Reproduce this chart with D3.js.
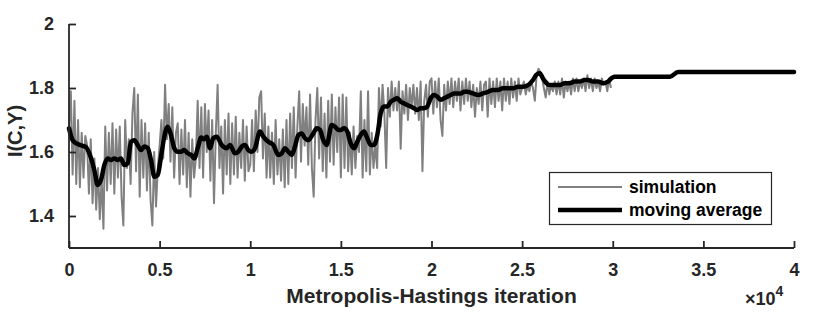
<!DOCTYPE html>
<html>
<head>
<meta charset="utf-8">
<script src="https://cdn.jsdelivr.net/npm/d3@7"></script>
<style>
  html, body { margin: 0; padding: 0; background: #fff; }
  svg { display: block; font-family: "Liberation Sans", Arial, Helvetica, sans-serif; font-weight: bold; }
</style>
</head>
<body>
<svg id="chart" width="830" height="312"></svg>
<script>
// ---- data ----
const xTicks = [0, 5000, 10000, 15000, 20000, 25000, 30000, 35000, 40000];
const xTickLabels = ["0", "0.5", "1", "1.5", "2", "2.5", "3", "3.5", "4"];
const yTicks = [1.4, 1.6, 1.8, 2];
const yTickLabels = ["1.4", "1.6", "1.8", "2"];
const seriesNames = ["simulation", "moving average"];

// simulation values, one every 100 iterations (0 .. 29900)
const simStep = 100;
const simValues = [
  1.67, 1.79, 1.53, 1.76, 1.50, 1.70, 1.49, 1.66, 1.52, 1.65,
  1.62, 1.47, 1.64, 1.44, 1.58, 1.42, 1.55, 1.39, 1.52, 1.36,
  1.68, 1.48, 1.66, 1.50, 1.69, 1.47, 1.67, 1.52, 1.68, 1.46,
  1.37, 1.70, 1.55, 1.64, 1.50, 1.72, 1.80, 1.54, 1.78, 1.46,
  1.70, 1.52, 1.69, 1.48, 1.66, 1.45, 1.37, 1.60, 1.43, 1.55,
  1.62, 1.70, 1.58, 1.81, 1.64, 1.75, 1.57, 1.74, 1.52, 1.66,
  1.69, 1.50, 1.67, 1.53, 1.70, 1.49, 1.66, 1.46, 1.64, 1.52,
  1.58, 1.76, 1.55, 1.74, 1.52, 1.75, 1.60, 1.73, 1.51, 1.70,
  1.44, 1.66, 1.81, 1.55, 1.68, 1.47, 1.70, 1.53, 1.72, 1.50,
  1.69, 1.53, 1.71, 1.52, 1.66, 1.55, 1.70, 1.51, 1.68, 1.54,
  1.56, 1.70, 1.54, 1.73, 1.60, 1.77, 1.79, 1.58, 1.72, 1.52,
  1.68, 1.52, 1.66, 1.50, 1.70, 1.53, 1.64, 1.51, 1.67, 1.49,
  1.70, 1.50, 1.72, 1.55, 1.74, 1.52, 1.68, 1.79, 1.57, 1.75,
  1.62, 1.74, 1.56, 1.78, 1.55, 1.46, 1.70, 1.80, 1.58, 1.77,
  1.54, 1.72, 1.52, 1.76, 1.57, 1.78, 1.56, 1.74, 1.60, 1.77,
  1.52, 1.78, 1.55, 1.77, 1.54, 1.66, 1.53, 1.68, 1.55, 1.65,
  1.60, 1.79, 1.52, 1.70, 1.54, 1.79, 1.53, 1.66, 1.55, 1.62,
  1.55, 1.80, 1.68, 1.81, 1.72, 1.55, 1.80, 1.71, 1.82, 1.73,
  1.80, 1.73, 1.82, 1.61, 1.79, 1.72, 1.81, 1.70, 1.80, 1.74,
  1.81, 1.72, 1.80, 1.70, 1.82, 1.54, 1.76, 1.81, 1.71, 1.82,
  1.83, 1.72, 1.82, 1.74, 1.83, 1.70, 1.65, 1.81, 1.73, 1.82,
  1.75, 1.83, 1.74, 1.82, 1.76, 1.83, 1.73, 1.82, 1.75, 1.83,
  1.76, 1.82, 1.74, 1.81, 1.71, 1.80, 1.75, 1.82, 1.73, 1.81,
  1.82, 1.71, 1.83, 1.75, 1.82, 1.74, 1.83, 1.76, 1.82, 1.73,
  1.83, 1.76, 1.82, 1.75, 1.83, 1.77, 1.82, 1.76, 1.83, 1.78,
  1.80, 1.82, 1.78, 1.81, 1.79, 1.82, 1.80, 1.76, 1.84, 1.86,
  1.85, 1.83, 1.80, 1.77, 1.82, 1.78, 1.81, 1.79, 1.82, 1.78,
  1.82, 1.78, 1.83, 1.77, 1.82, 1.79, 1.82, 1.78, 1.83, 1.79,
  1.83, 1.79, 1.82, 1.80, 1.83, 1.79, 1.84, 1.80, 1.83, 1.79,
  1.83, 1.80, 1.82, 1.79, 1.83, 1.81, 1.82, 1.79, 1.83, 1.80
];

// moving average, read at irregular iterations
const maIter = [
  0, 204, 480, 756, 938, 1214, 1396, 1583, 1766, 1948,
  2135, 2317, 2499, 2687, 2869, 3051, 3239, 3421, 3603, 3790,
  3972, 4154, 4342, 4524, 4706, 4894, 5076, 5258, 5445, 5628,
  5810, 5997, 6179, 6361, 6549, 6731, 6913, 7101, 7283, 7448,
  7597, 7779, 7961, 8149, 8425, 8701, 8883, 9159, 9341, 9528,
  9710, 9892, 10080, 10262, 10538, 10720, 10996, 11272, 11547, 11735,
  11917, 12099, 12287, 12469, 12651, 12838, 13021, 13203, 13478, 13666,
  13848, 14030, 14218, 14494, 14676, 14858, 14990, 15172, 15354, 15542,
  15724, 15906, 16094, 16276, 16458, 16645, 16828, 17010, 17197, 17379,
  17561, 17749, 17931, 18113, 18300, 18483, 18665, 18852, 19034, 19216,
  19404, 19586, 19768, 19956, 20138, 20320, 20507, 20690, 20872, 21059,
  21241, 21611, 21793, 21975, 22290, 22566, 22841, 23117, 23393, 23669,
  23945, 24497, 24772, 25048, 25324, 25600, 25782, 25969, 26152, 26334,
  26521, 27073, 27349, 27625, 27901, 28177, 28452, 28634, 28910, 29186,
  29462, 29738, 29920, 30107, 33158, 33600, 40000
];
const maValues = [
  1.674, 1.637, 1.625, 1.619, 1.615, 1.581, 1.544, 1.497, 1.513, 1.559,
  1.580, 1.575, 1.580, 1.575, 1.580, 1.559, 1.565, 1.632, 1.637, 1.622,
  1.606, 1.617, 1.612, 1.575, 1.523, 1.528, 1.585, 1.648, 1.679, 1.653,
  1.612, 1.601, 1.601, 1.606, 1.596, 1.591, 1.580, 1.612, 1.645, 1.640,
  1.648, 1.612, 1.643, 1.648, 1.622, 1.612, 1.622, 1.596, 1.601, 1.617,
  1.622, 1.606, 1.601, 1.612, 1.664, 1.648, 1.632, 1.622, 1.591, 1.596,
  1.612, 1.601, 1.591, 1.617, 1.653, 1.658, 1.643, 1.637, 1.658, 1.674,
  1.669, 1.637, 1.622, 1.684, 1.679, 1.669, 1.669, 1.674, 1.664, 1.627,
  1.612, 1.632, 1.653, 1.664, 1.643, 1.622, 1.622, 1.653, 1.721, 1.742,
  1.742, 1.757, 1.763, 1.768, 1.757, 1.752, 1.747, 1.742, 1.737, 1.731,
  1.737, 1.737, 1.742, 1.768, 1.778, 1.773, 1.763, 1.768, 1.773, 1.778,
  1.783, 1.783, 1.788, 1.788, 1.783, 1.778, 1.783, 1.788, 1.794, 1.794,
  1.799, 1.799, 1.804, 1.804, 1.809, 1.825, 1.841, 1.846, 1.830, 1.815,
  1.809, 1.809, 1.815, 1.815, 1.820, 1.820, 1.825, 1.825, 1.820, 1.820,
  1.815, 1.820, 1.830, 1.835, 1.835, 1.850, 1.850
];

// ---- chart ----
const W = 830, H = 312;
const margin = { left: 69, right: 36, top: 24, bottom: 64 };
const svg = d3.select("#chart");
const axisColor = "#262626";

const x = d3.scaleLinear().domain([0, 40000]).range([margin.left, W - margin.right]);
const y = d3.scaleLinear().domain([1.3, 2]).range([H - margin.bottom, margin.top]);

const simData = simValues.map((v, i) => ({ x: i * simStep, y: v }));
const maData = maIter.map((it, i) => ({ x: it, y: maValues[i] }));

const line = d3.line().x(d => x(d.x)).y(d => y(d.y));
const smoothLine = d3.line().x(d => x(d.x)).y(d => y(d.y)).curve(d3.curveMonotoneX);

svg.append("path").datum(simData)
  .attr("d", line).attr("fill", "none")
  .attr("stroke", "#808080").attr("stroke-width", 2)
  .attr("stroke-linejoin", "round");

svg.append("path").datum(maData)
  .attr("d", smoothLine).attr("fill", "none")
  .attr("stroke", "#000").attr("stroke-width", 4.5)
  .attr("stroke-linejoin", "round").attr("stroke-linecap", "round");

// axes (MATLAB style: ticks inside)
const tickLen = 7;
const xAxis = d3.axisBottom(x).tickValues(xTicks)
  .tickFormat((d, i) => xTickLabels[i]).tickSizeInner(-tickLen).tickSizeOuter(0).tickPadding(15);
const yAxis = d3.axisLeft(y).tickValues(yTicks)
  .tickFormat((d, i) => yTickLabels[i]).tickSizeInner(-tickLen).tickSizeOuter(0).tickPadding(15);

const gx = svg.append("g").attr("transform", `translate(0,${H - margin.bottom})`).call(xAxis);
const gy = svg.append("g").attr("transform", `translate(${margin.left},0)`).call(yAxis);

[gx, gy].forEach(g => {
  g.select(".domain").attr("stroke", axisColor).attr("stroke-width", 1.8);
  g.selectAll(".tick line").attr("stroke", axisColor).attr("stroke-width", 1.8);
  g.selectAll(".tick text").attr("fill", axisColor)
    .attr("font-family", "'Liberation Sans', Arial, sans-serif")
    .attr("font-weight", "bold").attr("font-size", 18);
});
gy.select(".domain").attr("d", `M0,${y(1.3)}V${y(2)}`);
gx.select(".domain").attr("d", `M${x(0)},0H${x(40000)}`);

// exponent
const ex = svg.append("text").attr("x", 745).attr("y", 305)
  .attr("fill", axisColor).attr("font-size", 18);
ex.append("tspan").text("\u00d710");
ex.append("tspan").attr("dy", -9).attr("font-size", 14).text("4");

// axis labels
svg.append("text")
  .attr("x", (x(0) + x(40000)) / 2).attr("y", 303)
  .attr("text-anchor", "middle").attr("fill", axisColor).attr("font-size", 21)
  .text("Metropolis-Hastings iteration");

svg.append("text")
  .attr("transform", `translate(22,131) rotate(-90)`)
  .attr("text-anchor", "middle").attr("fill", axisColor).attr("font-size", 20)
  .text("I(C,Y)");

// legend
const lg = svg.append("g");
lg.append("rect").attr("x", 549.5).attr("y", 172.5).attr("width", 222).attr("height", 52)
  .attr("fill", "#fff").attr("stroke", axisColor).attr("stroke-width", 1.2);
const legendY = [187, 210];
const legendStroke = [{ c: "#808080", w: 2 }, { c: "#000", w: 4.5 }];
seriesNames.forEach((name, i) => {
  lg.append("line").attr("x1", 558).attr("x2", 622).attr("y1", legendY[i]).attr("y2", legendY[i])
    .attr("stroke", legendStroke[i].c).attr("stroke-width", legendStroke[i].w);
  lg.append("text").attr("x", 629).attr("y", legendY[i] + 6.3)
    .attr("fill", "#000").attr("font-size", 17.5).text(name);
});
</script>
</body>
</html>
